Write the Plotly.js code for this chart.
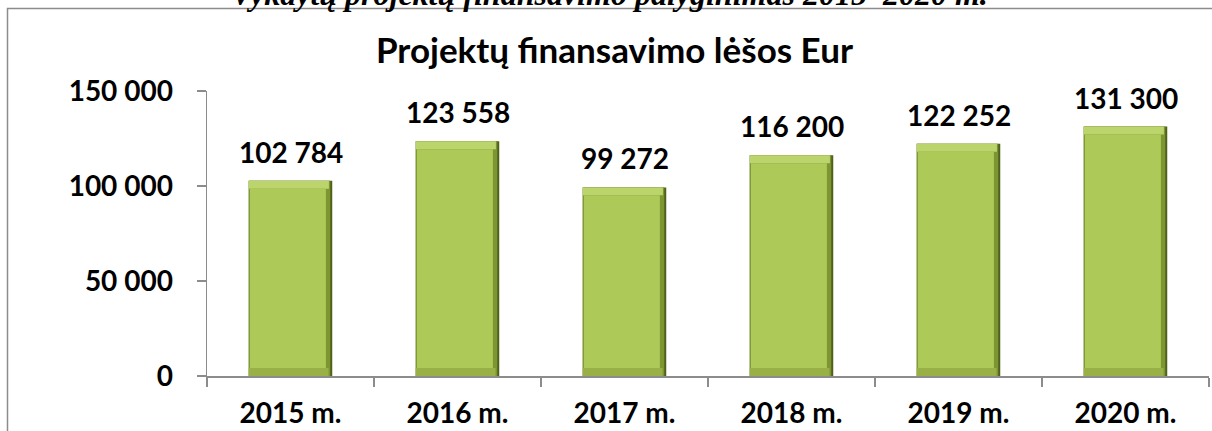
<!DOCTYPE html>
<html>
<head>
<meta charset="utf-8">
<script src="https://cdn.plot.ly/plotly-3.0.1.min.js"></script>
<style>
  html, body { margin: 0; padding: 0; background: #ffffff; }
  #chart { width: 1212px; height: 431px; }
</style>
</head>
<body>
<div id="chart"></div>
<script>
const categories = ["2015 m.", "2016 m.", "2017 m.", "2018 m.", "2019 m.", "2020 m."];
const values = [102784, 123558, 99272, 116200, 122252, 131300];
const yTicks = [0, 50000, 100000, 150000];
const chartTitle = "Projektų finansavimo lėšos Eur";
const pageHeading = "Vykdytų projektų finansavimo palyginimas 2015–2020 m.";

const FONT = "Lato, 'Open Sans', sans-serif";
const BEVEL = 4200; // bevel thickness in value units (style only)

const fmt = v => String(v).replace(/\B(?=(\d{3})+(?!\d))/g, " ");

const edgeTrace = {
  type: "bar", x: categories, y: values, width: 0.5,
  marker: { color: "#4f5f1c" }, hoverinfo: "skip", showlegend: false
};
const midTrace = {
  type: "bar", x: categories, y: values, width: 0.488, offset: -0.25,
  marker: { color: "#7d9632" }, hoverinfo: "skip", showlegend: false
};
const bottomTrace = {
  type: "bar", x: categories, y: values.map(() => BEVEL), base: 0,
  width: 0.478, offset: -0.25,
  marker: { color: "#98b046" }, hoverinfo: "skip", showlegend: false
};
const highlightTrace = {
  type: "bar", x: categories, y: values.map(() => BEVEL), base: values.map(v => v - BEVEL),
  width: 0.48, offset: -0.25,
  marker: { color: "#bcd46c" }, hoverinfo: "skip", showlegend: false
};
const faceTrace = {
  type: "bar", x: categories, y: values.map(v => v - 2 * BEVEL), base: BEVEL,
  width: 0.455, offset: -0.243,
  marker: { color: "#adc957" }, showlegend: false
};

const labelAnnotations = categories.map((c, i) => ({
  x: c, y: values[i], xref: "x", yref: "y",
  text: "<b>" + fmt(values[i]) + "</b>", showarrow: false,
  yanchor: "bottom", yshift: 10,
  font: { family: FONT, size: 28, color: "#000000" }
}));

const layout = {
  width: 1212, height: 431,
  margin: { l: 207, r: 3, t: 91, b: 55, pad: 0 },
  paper_bgcolor: "#ffffff", plot_bgcolor: "#ffffff",
  separators: ". ",
  barmode: "overlay",
  showlegend: false,
  title: {
    text: "<b>" + chartTitle + "</b>",
    x: 0.507, xanchor: "center", xref: "container",
    y: 1 - 51 / 431, yanchor: "middle", yref: "container",
    font: { family: FONT, size: 35, color: "#000000" }
  },
  xaxis: {
    type: "category",
    showline: true, linecolor: "#8c8c8c", linewidth: 1.5,
    ticks: "outside", ticklen: 9, tickcolor: "#8c8c8c", tickwidth: 1.5,
    tickson: "boundaries",
    showgrid: false, zeroline: false,
    tickfont: { family: FONT, size: 28, color: "#000000", weight: 700 },
    ticklabelstandoff: 12
  },
  yaxis: {
    range: [0, 150000],
    tickvals: yTicks,
    ticktext: yTicks.map(fmt),
    showline: true, linecolor: "#8c8c8c", linewidth: 1.5,
    ticks: "outside", ticklen: 9, tickcolor: "#8c8c8c", tickwidth: 1.5,
    showgrid: false, zeroline: false,
    tickfont: { family: FONT, size: 28, color: "#000000", weight: 700 },
    ticklabelstandoff: 18
  },
  annotations: labelAnnotations.concat([{
    text: "<b><i>" + pageHeading + "</i></b>",
    xref: "paper", yref: "paper",
    x: (609 - 207) / 1002, y: (376 - 14) / 285,
    xanchor: "center", yanchor: "bottom", showarrow: false,
    font: { family: "'Liberation Serif', serif", size: 32, color: "#000000" }
  }]),
  shapes: [{
    type: "rect", xref: "paper", yref: "paper",
    x0: (7.5 - 207) / 1002, x1: 1.1, y0: -0.4, y1: (376 - 8.5) / 285,
    line: { color: "#8c8c8c", width: 1.5 }, fillcolor: "rgba(0,0,0,0)", layer: "below"
  }]
};

Plotly.newPlot("chart", [edgeTrace, midTrace, bottomTrace, highlightTrace, faceTrace], layout,
  { displayModeBar: false, staticPlot: true });
</script>
</body>
</html>
